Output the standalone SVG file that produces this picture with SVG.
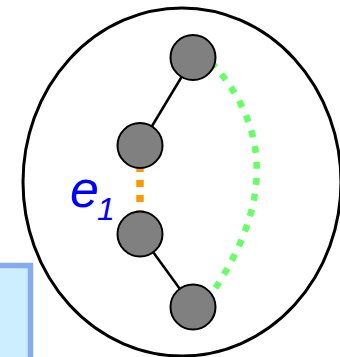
<svg xmlns="http://www.w3.org/2000/svg" width="340" height="357" viewBox="0 0 340 357">
<style>
.node{fill:#808080;stroke:#000;stroke-width:2}
.edge{stroke:#000;stroke-width:2.5;fill:none}
.lbl{font-family:"Liberation Sans",Arial,sans-serif;font-style:italic;fill:#0000ff}
</style>
<rect id="box" x="-20" y="265.5" width="50.5" height="120" fill="#cceeff" stroke="#88aaee" stroke-width="5.5"/>
<ellipse id="region" cx="182" cy="182" rx="159" ry="174" fill="none" stroke="#000" stroke-width="3"/>
<g id="connectors">
<line class="edge" x1="193" y1="58" x2="140" y2="146"/>
<line class="edge" x1="140" y1="234" x2="193" y2="307"/>
<line x1="140" y1="165" x2="140" y2="212" stroke="#ff9900" stroke-width="7.5" stroke-dasharray="7 8"/>
<path d="M211,62 Q304,163 208,299" fill="none" stroke="#66ff66" stroke-width="6.5" stroke-dasharray="7 9"/>
</g>
<g id="n1"><circle class="node" cx="193" cy="57.5" r="22.5"/></g>
<g id="n2"><circle class="node" cx="140" cy="145.5" r="22.5"/></g>
<g id="n3"><circle class="node" cx="140" cy="234" r="22.5"/></g>
<g id="n4"><circle class="node" cx="193" cy="307" r="22.5"/></g>
<g id="label"><text class="lbl" x="70" y="207" font-size="52">e</text><text class="lbl" x="97" y="220" font-size="32">1</text></g>
</svg>
